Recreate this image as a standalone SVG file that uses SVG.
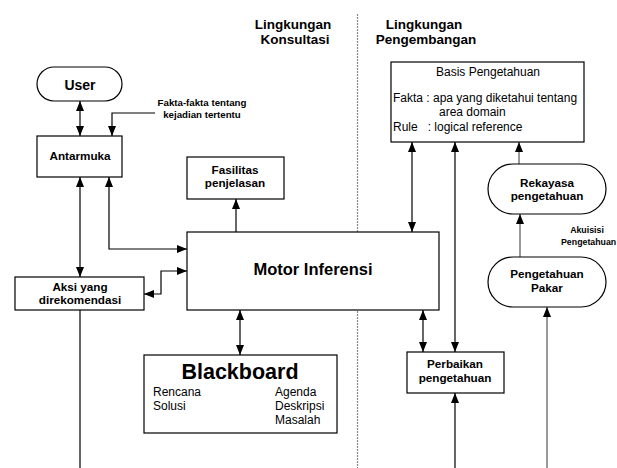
<svg xmlns="http://www.w3.org/2000/svg" width="617" height="468" viewBox="0 0 617 468">
<style>
.box{fill:#fff;stroke:#000;stroke-width:1.2}
.ln{fill:none;stroke:#000;stroke-width:1.2}
.gl{fill:none;stroke:#555;stroke-width:1.2}
.b{font-family:"Liberation Sans",Arial,sans-serif;font-weight:bold;fill:#000}
.r{font-family:"Liberation Sans",Arial,sans-serif;fill:#000}
.m{text-anchor:middle}
.t{font-size:11.7px}
.s{font-size:12px}
</style>
<defs>
<marker id="a" viewBox="0 0 10 8" refX="10" refY="4" markerWidth="10" markerHeight="8" markerUnits="userSpaceOnUse" orient="auto-start-reverse">
<path d="M0,0 L10,4 L0,8 Z" fill="#000"/>
</marker>
</defs>
<rect width="617" height="468" fill="#fff"/>
<line x1="357.5" y1="14" x2="357.5" y2="468" stroke="#888" stroke-width="1.2" stroke-dasharray="2,1"/>
<g id="headers">
<text class="b m" x="293" y="29" font-size="13.5">Lingkungan</text>
<text class="b m" x="295" y="44" font-size="13.5">Konsultasi</text>
<text class="b m" x="424" y="29" font-size="13.5">Lingkungan</text>
<text class="b m" x="426" y="44" font-size="13.5">Pengembangan</text>
</g>
<g id="connectors">
<line class="ln" x1="80" y1="101" x2="80" y2="136" marker-start="url(#a)" marker-end="url(#a)"/>
<polyline class="ln" points="155,113 112,113 112,136" marker-end="url(#a)"/>
<line class="ln" x1="80" y1="177" x2="80" y2="277" marker-start="url(#a)" marker-end="url(#a)"/>
<polyline class="ln" points="109,177 109,249 187,249" marker-start="url(#a)" marker-end="url(#a)"/>
<line class="ln" x1="236" y1="232" x2="236" y2="199" marker-end="url(#a)"/>
<polyline class="ln" points="187,271 161,271 161,294 144,294" marker-start="url(#a)" marker-end="url(#a)"/>
<line class="ln" x1="80" y1="310" x2="80" y2="468"/>
<line class="ln" x1="240" y1="310" x2="240" y2="355" marker-start="url(#a)" marker-end="url(#a)"/>
<line class="ln" x1="412" y1="142" x2="412" y2="232" marker-start="url(#a)" marker-end="url(#a)"/>
<line class="ln" x1="455" y1="142" x2="455" y2="352" marker-start="url(#a)" marker-end="url(#a)"/>
<line class="ln" x1="423" y1="310" x2="423" y2="352" marker-start="url(#a)" marker-end="url(#a)"/>
<line class="ln" x1="455" y1="468" x2="455" y2="393" marker-end="url(#a)"/>
<line class="gl" x1="519" y1="164" x2="519" y2="142" marker-end="url(#a)"/>
<line class="gl" x1="520" y1="257" x2="520" y2="214" marker-end="url(#a)"/>
<line class="gl" x1="547" y1="468" x2="547" y2="307" marker-end="url(#a)"/>
</g>
<g id="fakta-label">
<text class="b m" x="202" y="106" font-size="9.7">Fakta-fakta tentang</text>
<text class="b m" x="202" y="118" font-size="9.7">kejadian tertentu</text>
</g>
<g id="akuisisi-label">
<text class="b m" x="587" y="233" font-size="8.8">Akuisisi</text>
<text class="b" x="561" y="245" font-size="8.8">Pengetahuan</text>
</g>
<g id="user">
<rect class="box" x="37" y="67" width="85" height="34" rx="17"/>
<text class="b m" x="80" y="90" font-size="14">User</text>
</g>
<g id="antarmuka">
<rect class="box" x="37" y="136" width="85" height="41"/>
<text class="b m t" x="80" y="160">Antarmuka</text>
</g>
<g id="fasilitas">
<rect class="box" x="187" y="157" width="97" height="42"/>
<text class="b m t" x="235" y="174">Fasilitas</text>
<text class="b m t" x="235" y="187">penjelasan</text>
</g>
<g id="motor">
<rect class="box" x="187" y="232" width="252" height="78"/>
<text class="b m" x="313" y="275" font-size="16.5">Motor Inferensi</text>
</g>
<g id="aksi">
<rect class="box" x="15" y="277" width="129" height="33"/>
<text class="b m t" x="80" y="291">Aksi yang</text>
<text class="b m t" x="80" y="304">direkomendasi</text>
</g>
<g id="blackboard">
<rect class="box" x="144" y="355" width="193" height="78"/>
<text class="b m" x="240" y="379" font-size="21.5">Blackboard</text>
<text class="r s" x="153" y="396">Rencana</text>
<text class="r s" x="153" y="410">Solusi</text>
<text class="r s" x="275" y="396">Agenda</text>
<text class="r s" x="275" y="410">Deskripsi</text>
<text class="r s" x="275" y="424">Masalah</text>
</g>
<g id="basis">
<rect class="box" x="391" y="62" width="193" height="80"/>
<text class="r m s" x="488" y="76">Basis Pengetahuan</text>
<text class="r s" x="393" y="102">Fakta : apa yang diketahui tentang</text>
<text class="r s" x="439" y="116">area domain</text>
<text class="r s" x="393" y="131" xml:space="preserve">Rule   : logical reference</text>
</g>
<g id="rekayasa">
<rect class="box" x="488" y="164" width="118" height="50" rx="25"/>
<text class="b m t" x="547" y="187">Rekayasa</text>
<text class="b m t" x="547" y="200">pengetahuan</text>
</g>
<g id="pakar">
<rect class="box" x="488" y="257" width="118" height="50" rx="25"/>
<text class="b m t" x="547" y="278">Pengetahuan</text>
<text class="b m t" x="547" y="292">Pakar</text>
</g>
<g id="perbaikan">
<rect class="box" x="407" y="352" width="97" height="41"/>
<text class="b m t" x="455" y="368">Perbaikan</text>
<text class="b m t" x="455" y="382">pengetahuan</text>
</g>
</svg>
